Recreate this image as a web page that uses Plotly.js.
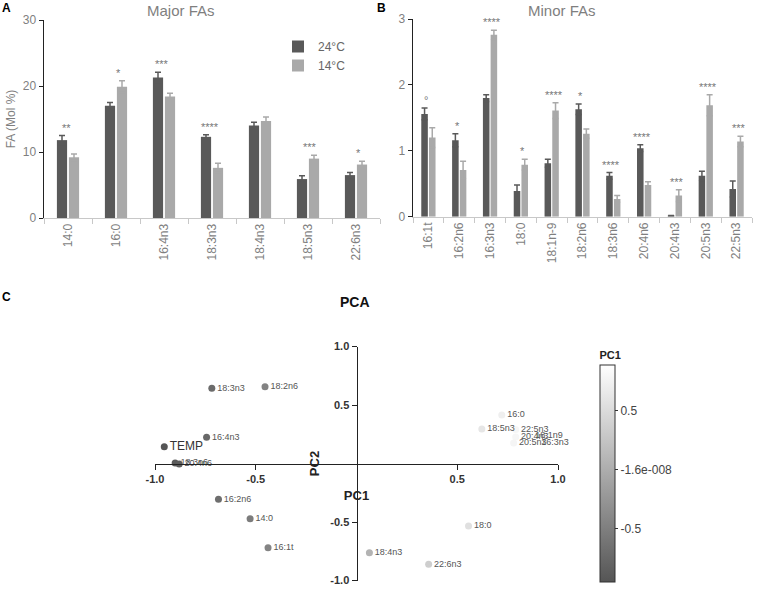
<!DOCTYPE html>
<html>
<head>
<meta charset="utf-8">
<script src="https://cdn.plot.ly/plotly-3.0.1.min.js"></script>
<style>html,body{margin:0;padding:0;background:#fff}#chart{width:758px;height:591px}</style>
</head>
<body>
<div id="chart"></div>
<script>
// ---- Panel A: major fatty acids ----
const catsA = ['14:0','16:0','16:4n3','18:3n3','18:4n3','18:5n3','22:6n3'];
const warmA = [11.8, 17.0, 21.3, 12.3, 14.0, 5.9, 6.5];
const warmErrA = [0.7, 0.5, 0.8, 0.3, 0.5, 0.5, 0.4];
const coldA = [9.2, 19.9, 18.4, 7.6, 14.7, 9.0, 8.1];
const coldErrA = [0.5, 0.9, 0.5, 0.7, 0.6, 0.5, 0.5];
const sigA = ['**','*','***','****','','***','*'];

// ---- Panel B: minor fatty acids ----
const catsB = ['16:1t','16:2n6','16:3n3','18:0','18:1n-9','18:2n6','18:3n6','20:4n6','20:4n3','20:5n3','22:5n3'];
const warmB = [1.56, 1.16, 1.80, 0.39, 0.81, 1.63, 0.62, 1.04, 0.02, 0.62, 0.42];
const warmErrB = [0.09, 0.10, 0.05, 0.09, 0.06, 0.08, 0.05, 0.05, 0.0, 0.07, 0.12];
const coldB = [1.20, 0.71, 2.76, 0.79, 1.61, 1.26, 0.27, 0.48, 0.32, 1.69, 1.14];
const coldErrB = [0.15, 0.13, 0.07, 0.08, 0.12, 0.07, 0.05, 0.05, 0.09, 0.16, 0.08];
const sigB = ['°','*','****','*','****','*','****','****','***','****','***'];

const seriesNames = ['24°C', '14°C'];

// ---- Panel C: PCA ----
const pcaLabels = ['TEMP','16:4n3','18:3n3','18:2n6','18:3n6','20:4n6','16:2n6','14:0','16:1t','18:4n3','22:6n3','18:0','16:0','18:5n3','22:5n3','20:4n3','18:1n9','20:5n3','16:3n3'];
const pc1 = [-0.954, -0.744, -0.718, -0.454, -0.90, -0.88, -0.685, -0.528, -0.439, 0.064, 0.358, 0.556, 0.721, 0.622, 0.79, 0.79, 0.86, 0.78, 0.89];
const pc2 = [0.144, 0.224, 0.643, 0.656, 0.005, -0.005, -0.306, -0.472, -0.72, -0.762, -0.862, -0.534, 0.415, 0.295, 0.29, 0.227, 0.235, 0.175, 0.175];

const darkCol = '#595959', lightCol = '#a9a9a9';
const tickGray = '#7f7f7f';
const FONT = 'Liberation Sans, Arial, sans-serif';

function barTrace(x, y, err, name, color, xa, ya, show) {
  return {
    type: 'bar', x: x, y: y, name: name, xaxis: xa, yaxis: ya,
    marker: {color: color}, showlegend: show, legendgroup: name,
    error_y: {type: 'data', array: err, visible: true, color: color, thickness: 1.5, width: 3},
    hoverinfo: 'x+y'
  };
}

const traces = [
  barTrace(catsA, warmA, warmErrA, seriesNames[0], darkCol, 'x', 'y', true),
  barTrace(catsA, coldA, coldErrA, seriesNames[1], lightCol, 'x', 'y', true),
  barTrace(catsB, warmB, warmErrB, seriesNames[0], darkCol, 'x2', 'y2', false),
  barTrace(catsB, coldB, coldErrB, seriesNames[1], lightCol, 'x2', 'y2', false),
  {
    type: 'scatter', mode: 'markers+text', x: pc1, y: pc2, text: pcaLabels,
    xaxis: 'x3', yaxis: 'y3', showlegend: false, cliponaxis: false,
    textposition: 'middle right',
    textfont: {size: pcaLabels.map(l => l === 'TEMP' ? 12 : 9), color: pcaLabels.map(l => l === 'TEMP' ? '#333' : '#555'), family: FONT},
    marker: {
      size: 7, color: pc1,
      colorscale: [[0, '#555555'], [1, '#ffffff']],
      showscale: true,
      colorbar: {
        x: 600/758, xanchor: 'left', y: 1 - 465/591, yanchor: 'middle',
        lenmode: 'pixels', len: 234, thickness: 15, xpad: 0, ypad: 0,
        outlinecolor: '#333', outlinewidth: 1,
        ticks: 'outside', ticklen: 3, tickcolor: '#333',
        tickvals: [-0.5, -1.6e-8, 0.5], ticktext: ['-0.5', '-1.6e-008', '0.5'],
        tickfont: {size: 12, color: '#444', family: FONT},
        title: {text: 'PC1', side: 'top', font: {size: 11, color: '#222', family: FONT, weight: 'bold'}}
      }
    },
    hoverinfo: 'text+x+y'
  }
];

const annotations = [];
function sigAnn(cats, w, we, c, ce, sig, xr, yr) {
  cats.forEach((cat, i) => {
    if (!sig[i]) return;
    const top = Math.max(w[i] + we[i], c[i] + ce[i]);
    annotations.push({x: cat, y: top, xref: xr, yref: yr, text: sig[i], showarrow: false,
      yanchor: 'bottom', xanchor: 'center', xshift: (c[i] > w[i] ? 2 : -2),
      font: {size: 11, color: '#777', family: FONT}});
  });
}
sigAnn(catsA, warmA, warmErrA, coldA, coldErrA, sigA, 'x', 'y');
sigAnn(catsB, warmB, warmErrB, coldB, coldErrB, sigB, 'x2', 'y2');

const titleFont = {size: 15, color: '#7f7f7f', family: FONT};
function paperText(text, px, py, font) {
  return {text: text, x: px/758, y: 1 - py/591, xref: 'paper', yref: 'paper', showarrow: false,
          xanchor: 'center', yanchor: 'middle', font: font};
}
const letterFont = {size: 12, color: '#000', family: FONT, weight: 'bold'};
annotations.push(
  paperText('Major FAs', 181, 11, titleFont),
  paperText('Minor FAs', 562, 11, titleFont),
  paperText('PCA', 355, 302, {size: 14, color: '#111', family: FONT, weight: 'bold'}),
  paperText('A', 6, 8, letterFont),
  paperText('B', 381, 8, letterFont),
  paperText('C', 6, 297, letterFont)
);

const catXAxis = (dom, anchor) => ({
  domain: dom, anchor: anchor, type: 'category',
  showline: true, linecolor: '#c8c8c8', linewidth: 1,
  ticks: 'outside', tickson: 'boundaries', ticklen: 5, tickcolor: '#c8c8c8',
  tickangle: -90, tickfont: {size: 12, color: tickGray, family: FONT},
  showgrid: false, zeroline: false, fixedrange: true
});
const valYAxis = (dom, anchor, range, tv) => ({
  domain: dom, anchor: anchor, range: range, tickvals: tv,
  showline: true, linecolor: '#222', linewidth: 1.5,
  ticks: 'outside', ticklen: 4, tickcolor: '#222',
  tickfont: {size: 12, color: tickGray, family: FONT},
  showgrid: false, zeroline: false, fixedrange: true
});

const yA = valYAxis([1 - 218/591, 1 - 20/591], 'x', [0, 30], [0, 10, 20, 30]);
yA.title = {text: 'FA (Mol %)', font: {size: 12, color: tickGray, family: FONT}, standoff: 4};

const xDomC = [155/758, 558/758];
const yDomC = [1 - 580.5/591, 1 - 346.5/591];
const pcaTickFont = {size: 11, color: '#333', family: FONT, weight: 'bold'};

const layout = {
  width: 758, height: 591,
  margin: {l: 0, r: 0, t: 0, b: 0},
  paper_bgcolor: '#fff', plot_bgcolor: 'rgba(0,0,0,0)',
  font: {family: FONT},
  barmode: 'group', bargap: 0.5, bargroupgap: 0.15,
  showlegend: true,
  legend: {x: 278/758, y: 1 - 32/591, xanchor: 'left', yanchor: 'top',
           bgcolor: 'rgba(0,0,0,0)', font: {size: 12, color: '#666', family: FONT},
           itemwidth: 30, tracegroupgap: 0},
  xaxis: catXAxis([44/758, 380/758], 'y'),
  yaxis: yA,
  xaxis2: catXAxis([413/758, 752/758], 'y2'),
  yaxis2: valYAxis([1 - 216.7/591, 1 - 19/591], 'x2', [0, 3], [0, 1, 2, 3]),
  xaxis3: {
    domain: xDomC, anchor: 'free', position: (yDomC[0] + yDomC[1]) / 2,
    range: [-1, 1], tickvals: [-1, -0.5, 0.5, 1], ticktext: ['-1.0', '-0.5', '0.5', '1.0'],
    showline: true, linecolor: '#222', linewidth: 1.5,
    ticks: 'outside', ticklen: 5, tickcolor: '#222', tickfont: pcaTickFont,
    showgrid: false, zeroline: false, fixedrange: true,
    title: {text: 'PC1', font: {size: 13, color: '#222', family: FONT, weight: 'bold'}, standoff: 6}
  },
  yaxis3: {
    domain: yDomC, anchor: 'free', position: (xDomC[0] + xDomC[1]) / 2,
    range: [-1, 1], tickvals: [-1, -0.5, 0.5, 1], ticktext: ['-1.0', '-0.5', '0.5', '1.0'],
    showline: true, linecolor: '#222', linewidth: 1.5,
    ticks: 'outside', ticklen: 5, tickcolor: '#222', tickfont: pcaTickFont,
    showgrid: false, zeroline: false, fixedrange: true,
    title: {text: 'PC2', font: {size: 13, color: '#222', family: FONT, weight: 'bold'}, standoff: 6}
  },
  annotations: annotations
};

Plotly.newPlot('chart', traces, layout, {displayModeBar: false, staticPlot: true});
</script>
</body>
</html>
